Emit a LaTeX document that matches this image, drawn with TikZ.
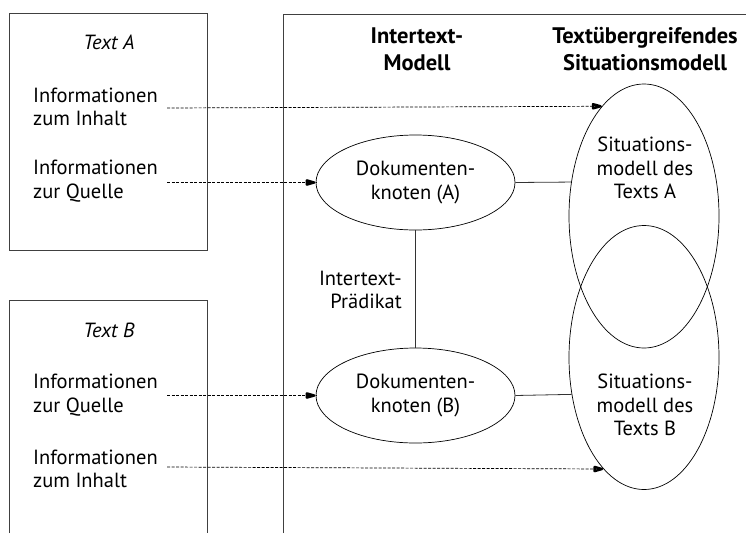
\documentclass[tikz,border=0pt]{standalone}
\usepackage{fontspec}
\setmainfont{PT Sans}
\usetikzlibrary{shapes.geometric}

\tikzset{
  txt/.style={font=\fontsize{20.5}{23.5}\selectfont, inner sep=0pt},
  head/.style={txt, font=\fontsize{22.5}{27}\selectfont\bfseries, align=center},
  frame/.style={draw=black!75, line width=0.9pt},
  knoten/.style={shape=ellipse, draw=black, line width=0.7pt, inner sep=0pt,
    minimum width=199pt, minimum height=95pt, align=center, txt},
  situ/.style={shape=ellipse, draw=black, line width=0.7pt, inner sep=0pt,
    minimum width=150pt, minimum height=264pt},
  feed/.style={draw=black, line width=0.7pt, dash pattern=on 3pt off 1.5pt},
  tipmark/.style={draw=black, line width=2.4pt, line join=round},
  link/.style={draw=black!80, line width=0.8pt}
}

\begin{document}
\begin{tikzpicture}[x=1pt,y=-1pt]
\useasboundingbox (0,0) rectangle (746,533);
% boxes
\draw[frame] (9,13) rectangle (207,250);
\draw[frame] (9,533) -- (9,300) -- (207,300) -- (207,533);
\draw[frame] (283,533) -- (283,14) -- (746,14);

% text A
\node[txt, font=\fontsize{20.5}{23.5}\selectfont\itshape] (titleA) at (109,42) {Text A};
\node[txt, anchor=west, align=left] (infoA1) at (33,107) {Informationen\\zum Inhalt};
\node[txt, anchor=west, align=left] (infoA2) at (33,181) {Informationen\\zur Quelle};
% text B
\node[txt, font=\fontsize{20.5}{23.5}\selectfont\itshape] (titleB) at (109,330) {Text B};
\node[txt, anchor=west, align=left] (infoB1) at (33,395) {Informationen\\zur Quelle};
\node[txt, anchor=west, align=left] (infoB2) at (33,469) {Informationen\\zum Inhalt};

% headers
\node[head] (hInter) at (417,49) {Intertext-\\Modell};
\node[head] (hSitu) at (645,49) {Textübergreifendes\\Situationsmodell};

% models
\node[knoten] (docA) at (415.5,182.5) {Dokumenten-\\knoten (A)};
\node[knoten] (docB) at (415.5,395.5) {Dokumenten-\\knoten (B)};
\node[situ] (sitA) at (644,216) {};
\node[situ] (sitB) at (644,357.5) {};
\node[txt, align=center] (sitAtxt) at (645,168) {Situations-\\modell des\\Texts A};
\node[txt, align=center] (sitBtxt) at (645,405) {Situations-\\modell des\\Texts B};
\node[txt, anchor=east, align=right] (praed) at (402,290) {Intertext-\\Prädikat};

% arrow starts and ends
\coordinate (inA) at (167,108);
\coordinate (quA) at (167,182.5);
\coordinate (quB) at (167,395.5);
\coordinate (inB) at (167,467);
\coordinate (endA) at (sitA.111.7);
\coordinate (endB) at (sitB.-110.8);

\draw[feed] (inA) -- (endA);
\draw[feed] (quA) -- (docA.west);
\draw[feed] (quB) -- (docB.west);
\draw[feed] (inB) -- (endB);
% arrow heads
\draw[tipmark] ([xshift=-1.4pt]endA) -- ++(-7.4,-2.1) -- ++(0,4.2) -- cycle;
\draw[tipmark] ([xshift=-1.4pt]docA.west) -- ++(-7.4,-2.1) -- ++(0,4.2) -- cycle;
\draw[tipmark] ([xshift=-1.4pt]docB.west) -- ++(-7.4,-2.1) -- ++(0,4.2) -- cycle;
\draw[tipmark] ([xshift=-1.4pt]endB) -- ++(-7.4,-2.1) -- ++(0,4.2) -- cycle;

\draw[link] (docA) -- (docB);
\draw[link] (docA.east) -- (sitA.155);
\draw[link] (docB.east) -- (sitB.207.9);
\end{tikzpicture}
\end{document}
